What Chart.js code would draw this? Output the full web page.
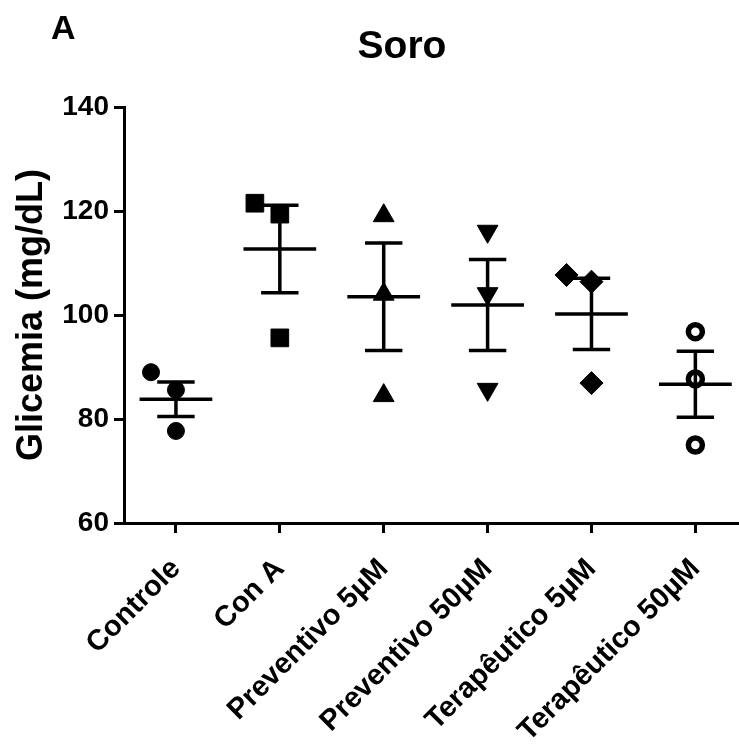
<!DOCTYPE html>
<html><head><meta charset="utf-8">
<script src="https://cdn.jsdelivr.net/npm/chart.js@4/dist/chart.umd.min.js"></script>
<style>html,body{margin:0;padding:0;background:#fff;}#wrap{position:relative;width:739px;height:748px;}</style>
</head><body><div id="wrap"><canvas id="c" width="739" height="748"></canvas></div>
<script>
// ---- data ----
const categories = ['Controle', 'Con A', 'Preventivo 5µM', 'Preventivo 50µM', 'Terapêutico 5µM', 'Terapêutico 50µM'];
const controle = [89.0, 85.6, 77.7];
const conA = [121.5, 119.4, 95.6];
const preventivo5 = [119.1, 104.0, 84.5];
const preventivo50 = [116.1, 104.1, 85.7];
const terapeutico5 = [107.7, 106.4, 86.9];
const terapeutico50 = [96.8, 87.7, 75.0];
const means = [83.8, 112.7, 103.5, 101.9, 100.2, 86.7];
const sems = [3.3, 8.4, 10.35, 8.75, 6.85, 6.35];
const yTicks = [60, 80, 100, 120, 140];
const chartTitle = 'Soro';
const panelLabel = 'A';
const yTitle = 'Glicemia (mg/dL)';

const groups = [controle, conA, preventivo5, preventivo50, terapeutico5, terapeutico50];
const FONT = "'Liberation Sans', Arial, Helvetica, sans-serif";

const markers = [
  {pointStyle: 'circle', radius: 8.5, rotation: 0, bg: '#000', bw: 1},
  {pointStyle: 'rect', radius: 12.5, rotation: 0, bg: '#000', bw: 1},
  {pointStyle: 'triangle', radius: 12, rotation: 0, bg: '#000', bw: 1},
  {pointStyle: 'triangle', radius: 12, rotation: 180, bg: '#000', bw: 1},
  {pointStyle: 'rectRot', radius: 11.5, rotation: 0, bg: '#000', bw: 1},
  {pointStyle: 'circle', radius: 7, rotation: 0, bg: '#fff', bw: 5.5}
];

// nudge overlapping points sideways (like the scatter-dot layout)
function nudge(vals, j) {
  for (let k = 0; k < vals.length; k++) {
    if (k !== j && Math.abs(vals[k] - vals[j]) < 3.5 && vals[j] > vals[k]) return -0.24;
  }
  return 0;
}

const pointDatasets = groups.map((vals, i) => ({
  label: categories[i],
  data: vals.map((v, j) => ({x: i + nudge(vals, j), y: v})),
  pointStyle: markers[i].pointStyle,
  pointRadius: markers[i].radius,
  pointRotation: markers[i].rotation,
  pointBackgroundColor: markers[i].bg,
  pointBorderColor: '#000',
  pointBorderWidth: markers[i].bw,
  showLine: false,
  order: 2,
  clip: false
}));

const barData = [];
means.forEach((m, i) => {
  const s = sems[i];
  barData.push(
    {x: i - 0.35, y: m}, {x: i + 0.35, y: m}, {x: i, y: null},
    {x: i, y: m - s}, {x: i, y: m + s}, {x: i, y: null},
    {x: i - 0.18, y: m + s}, {x: i + 0.18, y: m + s}, {x: i, y: null},
    {x: i - 0.18, y: m - s}, {x: i + 0.18, y: m - s}, {x: i, y: null}
  );
});

const errDataset = {
  label: 'mean ± SEM',
  data: barData,
  showLine: true,
  spanGaps: false,
  borderColor: '#000',
  borderWidth: 3.5,
  borderCapStyle: 'butt',
  pointRadius: 0,
  pointHoverRadius: 0,
  order: 0,
  clip: false
};

const textPlugin = {
  id: 'panelText',
  afterDraw(chart) {
    const ctx = chart.ctx;
    ctx.save();
    ctx.fillStyle = '#000';
    ctx.textBaseline = 'alphabetic';
    ctx.textAlign = 'left';
    ctx.font = 'bold 34px ' + FONT;
    ctx.fillText(panelLabel, 51, 39);
    ctx.textAlign = 'center';
    ctx.font = 'bold 39px ' + FONT;
    ctx.fillText(chartTitle, 402, 58);
    ctx.restore();
  }
};

new Chart(document.getElementById('c'), {
  type: 'scatter',
  data: {datasets: [errDataset, ...pointDatasets]},
  plugins: [textPlugin],
  options: {
    responsive: false,
    animation: false,
    devicePixelRatio: 1,
    layout: {autoPadding: false, padding: {top: 107, left: 0, right: 0, bottom: 0}},
    plugins: {legend: {display: false}, tooltip: {enabled: false}, title: {display: false}},
    scales: {
      x: {
        type: 'linear',
        min: -0.5,
        max: 5.42,
        afterBuildTicks: (scale) => { scale.ticks = categories.map((c, i) => ({value: i})); },
        afterFit: (scale) => { scale.height = 225; scale.paddingLeft = 0; scale.paddingRight = 0; },
        ticks: {
          autoSkip: false,
          maxRotation: 45,
          minRotation: 45,
          padding: 19,
          color: '#000',
          font: {family: FONT, size: 29, weight: 'bold'},
          callback: (v) => categories[v]
        },
        grid: {drawOnChartArea: false, drawTicks: true, tickLength: 10, tickWidth: 3, tickColor: '#000', color: '#000'},
        border: {display: true, color: '#000', width: 3}
      },
      y: {
        type: 'linear',
        min: 60,
        max: 140,
        afterBuildTicks: (scale) => { scale.ticks = yTicks.map(v => ({value: v})); },
        afterFit: (scale) => { scale.width = 124; },
        ticks: {
          padding: 5,
          color: '#000',
          font: {family: FONT, size: 28, weight: 'bold'}
        },
        grid: {drawOnChartArea: false, drawTicks: true, tickLength: 10, tickWidth: 3, tickColor: '#000', color: '#000'},
        border: {display: true, color: '#000', width: 3},
        title: {
          display: true,
          text: yTitle,
          color: '#000',
          font: {family: FONT, size: 36, weight: 'bold'},
          padding: {top: 10, bottom: 0}
        }
      }
    }
  }
});
</script></body></html>
